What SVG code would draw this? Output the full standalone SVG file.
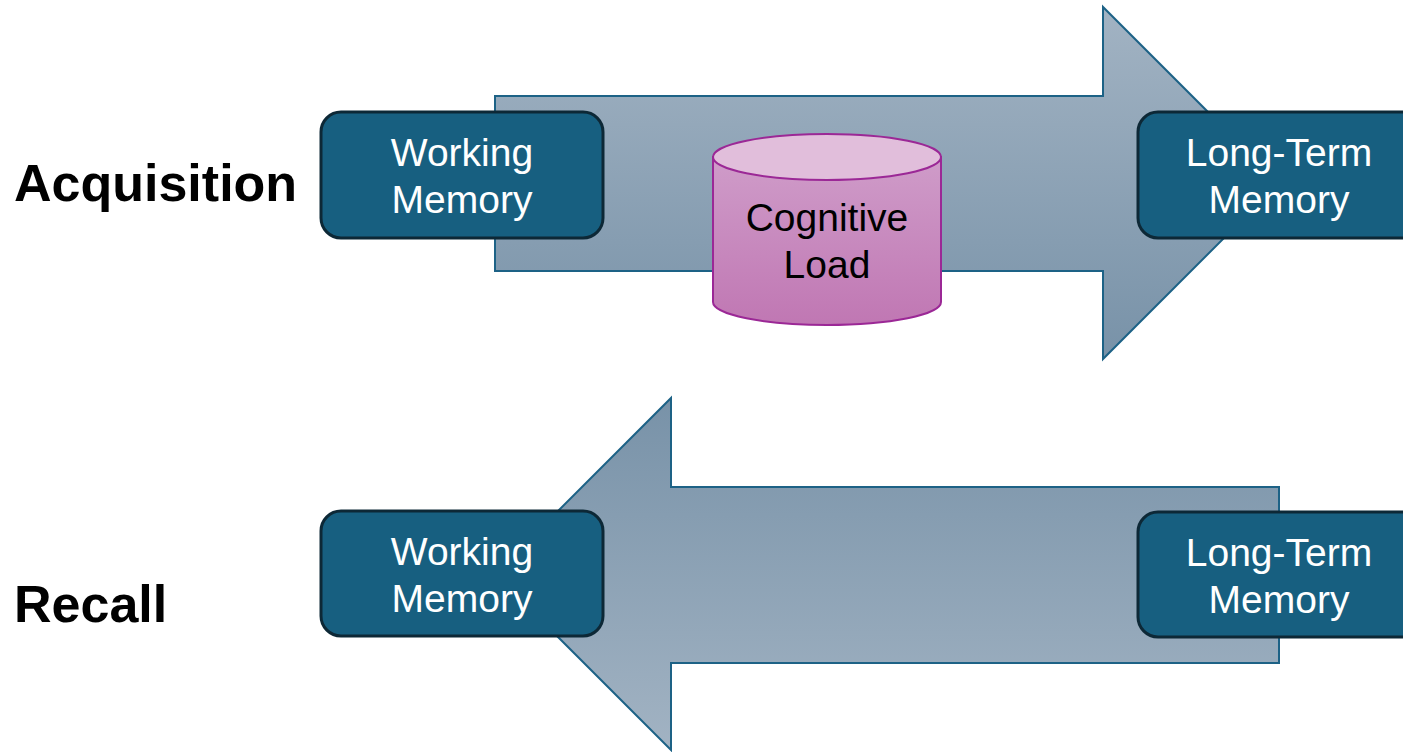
<svg xmlns="http://www.w3.org/2000/svg" width="1403" height="752" viewBox="0 0 1403 752">
<defs>
<linearGradient id="gDown" x1="0" y1="0" x2="0" y2="1">
<stop offset="0" stop-color="#a2b3c3"/>
<stop offset="1" stop-color="#7892a8"/>
</linearGradient>
<linearGradient id="gUp" x1="0" y1="0" x2="0" y2="1">
<stop offset="0" stop-color="#7892a8"/>
<stop offset="1" stop-color="#a2b3c3"/>
</linearGradient>
<linearGradient id="gCyl" x1="0" y1="0" x2="0" y2="1">
<stop offset="0" stop-color="#cf9cc9"/>
<stop offset="1" stop-color="#c077b3"/>
</linearGradient>
<style>
.arrow{stroke:#1d6286;stroke-width:2;stroke-linejoin:miter}
.box{fill:#175f80;stroke:#0d2836;stroke-width:3}
.bt{font-family:"Liberation Sans",Arial,sans-serif;font-size:39px;fill:#ffffff;text-anchor:middle}
.lbl{font-family:"Liberation Sans",Arial,sans-serif;font-size:52px;font-weight:bold;fill:#000000}
.ct{font-family:"Liberation Sans",Arial,sans-serif;font-size:39px;fill:#000000;text-anchor:middle}
.cyl{stroke:#9b2896;stroke-width:2}
</style>
</defs>
<g id="connectors">
<path class="arrow" fill="url(#gDown)" d="M495,96 L1103,96 L1103,7 L1279,183 L1103,359 L1103,271 L495,271 Z"/>
<path class="arrow" fill="url(#gUp)" d="M1279,487 L671,487 L671,398 L495,574 L671,750 L671,663 L1279,663 Z"/>
</g>
<g id="label-acquisition"><text class="lbl" x="14" y="201">Acquisition</text></g>
<g id="label-recall"><text class="lbl" x="14" y="622">Recall</text></g>
<g id="wm-top">
<rect class="box" x="321" y="112" width="282" height="126" rx="20" ry="20"/>
<text class="bt" x="462" y="166">Working</text>
<text class="bt" x="462" y="213">Memory</text>
</g>
<g id="ltm-top">
<rect class="box" x="1138" y="112" width="290" height="126" rx="20" ry="20"/>
<text class="bt" x="1279" y="166">Long-Term</text>
<text class="bt" x="1279" y="213">Memory</text>
</g>
<g id="cognitive-load">
<path class="cyl" fill="url(#gCyl)" d="M713,157 L713,302 A114,23 0 0 0 941,302 L941,157 Z"/>
<ellipse class="cyl" fill="#e1bedb" cx="827" cy="157" rx="114" ry="23"/>
<text class="ct" x="827" y="231">Cognitive</text>
<text class="ct" x="827" y="278">Load</text>
</g>
<g id="wm-bottom">
<rect class="box" x="321" y="511" width="282" height="125" rx="20" ry="20"/>
<text class="bt" x="462" y="565">Working</text>
<text class="bt" x="462" y="612">Memory</text>
</g>
<g id="ltm-bottom">
<rect class="box" x="1138" y="512" width="290" height="125" rx="20" ry="20"/>
<text class="bt" x="1279" y="566">Long-Term</text>
<text class="bt" x="1279" y="613">Memory</text>
</g>
</svg>
